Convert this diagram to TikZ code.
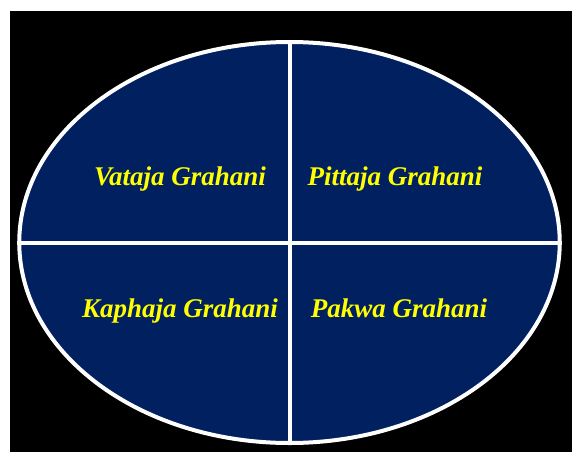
\documentclass[tikz,border=0pt]{standalone}
\usepackage{fontspec}
\setmainfont{Liberation Serif}
\usetikzlibrary{shapes.geometric}
\definecolor{navy}{RGB}{0,32,96}
\definecolor{txtyellow}{RGB}{255,255,0}
\tikzset{
  label text/.style={anchor=base, text=txtyellow, font=\fontsize{27}{31}\selectfont\bfseries\itshape, inner sep=0pt},
  divider/.style={draw=white, line width=4pt}
}
\begin{document}
\begin{tikzpicture}[x=1pt,y=-1pt]
\useasboundingbox (0,0) rectangle (572,452);
\fill[white] (0,0) rectangle (572,452);
\fill[black] (10,11) rectangle (572,452);
\node[ellipse, draw=white, fill=navy, line width=4pt, minimum width=540.5pt, minimum height=401pt, inner sep=0pt] (e) at (289.5,242.5) {};
\draw[divider] (e.north) -- (e.south);
\draw[divider] (e.west) -- (e.east);
\node[label text] (v) at (180,185) {Vataja Grahani};
\node[label text] (p) at (395,185) {Pittaja Grahani};
\node[label text] (k) at (180,317) {Kaphaja Grahani};
\node[label text] (w) at (399,317) {Pakwa Grahani};
\end{tikzpicture}
\end{document}
